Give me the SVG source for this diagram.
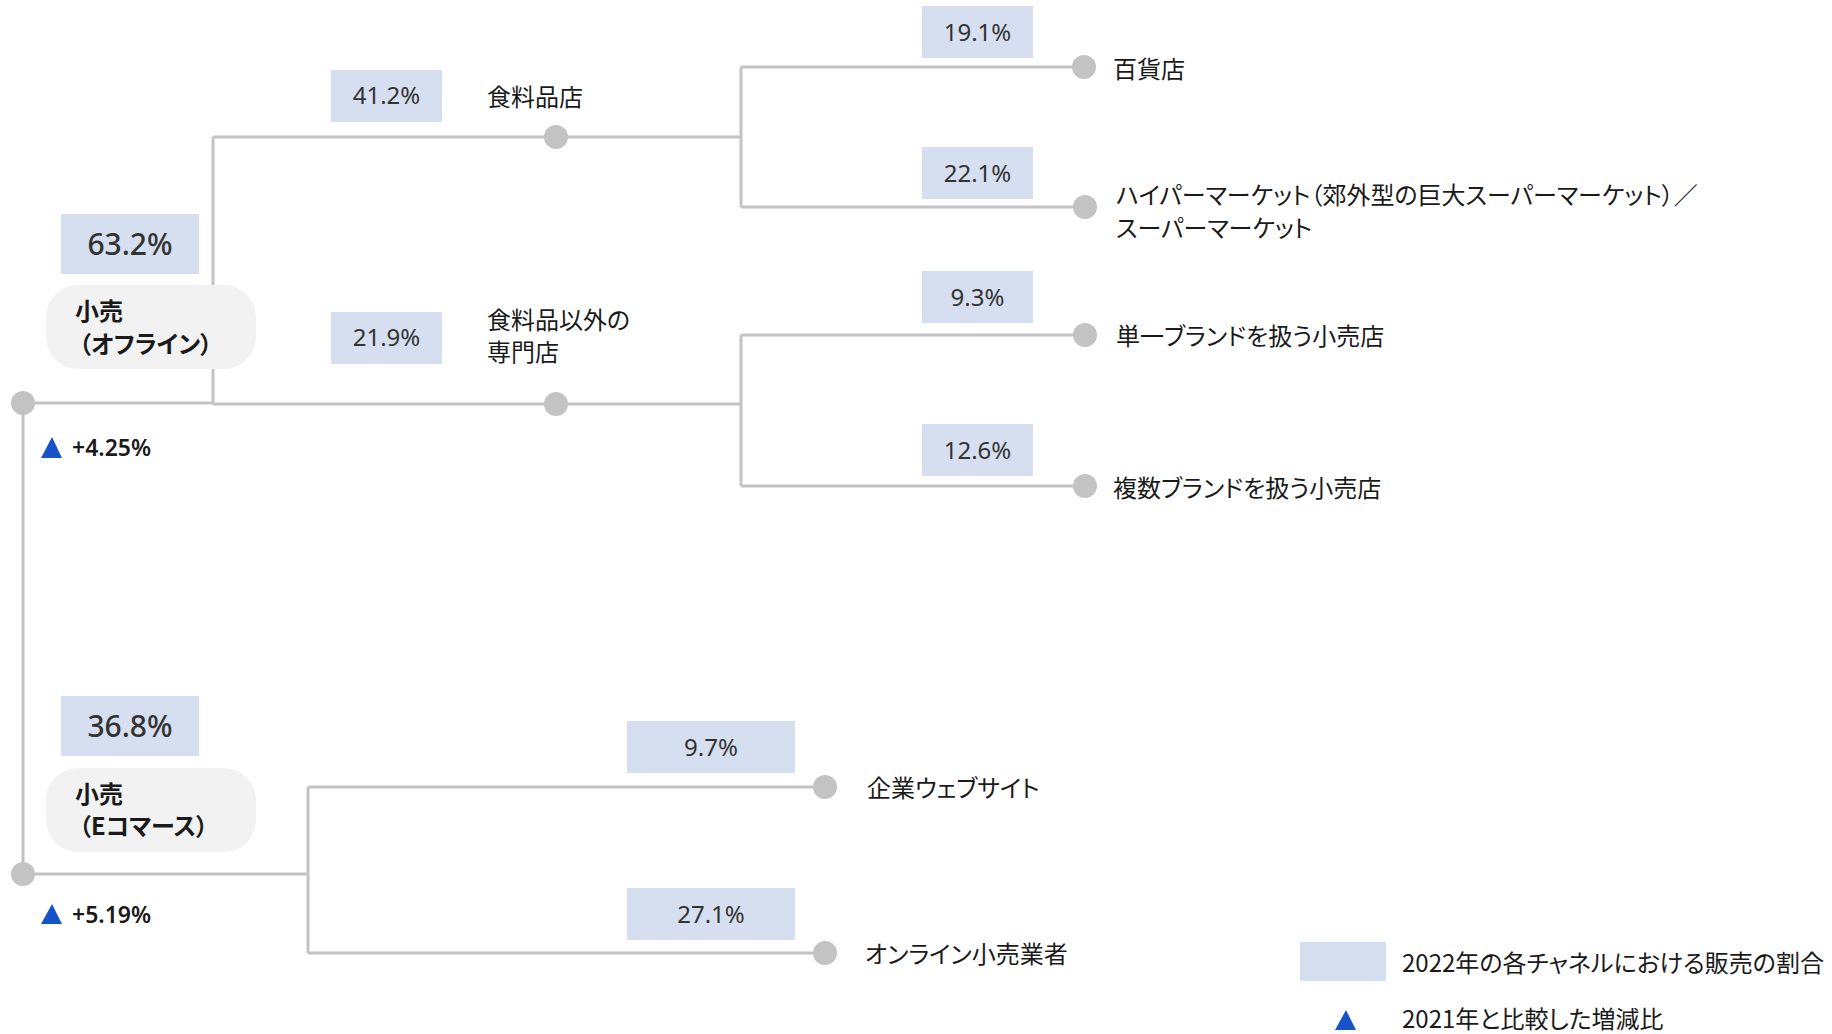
<svg xmlns="http://www.w3.org/2000/svg" width="1832" height="1034" viewBox="0 0 1832 1034">
<style>
.ln{stroke:#c3c3c3;stroke-width:3;fill:none}
.dot{fill:#c3c3c3}
.pbox{fill:#d6dfef}
.pct{font-family:"Noto Sans","Open Sans","Noto Sans CJK JP",sans-serif;font-size:24px;fill:#333;text-anchor:middle}
.big{font-size:30px;font-weight:500}
.lbl{font-family:"Noto Sans CJK JP",sans-serif;font-size:24px;fill:#1a1a1a;font-feature-settings:"palt"}
.cat{font-family:"Noto Sans CJK JP",sans-serif;font-size:24px;font-weight:700;fill:#1a1a1a;font-feature-settings:"palt"}
.catbox{fill:#f2f2f2}
.tri{fill:#1653c9}
.chg{font-family:"Noto Sans","Open Sans",sans-serif;font-size:23px;font-weight:600;fill:#1a1a1a}
</style>
<g id="connectors">
<path class="ln" d="M23 403V874"/>
<path class="ln" d="M23 403H213"/>
<path class="ln" d="M213 137V404"/>
<path class="ln" d="M213 137H741"/>
<path class="ln" d="M213 404H741"/>
<path class="ln" d="M741 67V207"/>
<path class="ln" d="M741 67H1084"/>
<path class="ln" d="M741 207H1085"/>
<path class="ln" d="M741 335V486"/>
<path class="ln" d="M741 335H1085"/>
<path class="ln" d="M741 486H1085"/>
<path class="ln" d="M23 874H308"/>
<path class="ln" d="M308 787V953"/>
<path class="ln" d="M308 787H825"/>
<path class="ln" d="M308 953H825"/>
</g>
<g id="root-offline">
<circle class="dot" cx="23" cy="403" r="12"/>
<rect class="pbox" x="61" y="214" width="138" height="60"/>
<text class="pct big" x="130" y="255">63.2%</text>
<rect class="catbox" x="46" y="285" width="210" height="84" rx="32"/>
<text class="cat" x="75" y="320">小売</text>
<text class="cat" x="79" y="353">（オフライン）</text>
<polygon class="tri" points="41,458 52,437 62,458"/>
<text class="chg" x="72" y="456">+4.25%</text>
</g>
<g id="root-ec">
<circle class="dot" cx="23" cy="874" r="12"/>
<rect class="pbox" x="61" y="696" width="138" height="60"/>
<text class="pct big" x="130" y="737">36.8%</text>
<rect class="catbox" x="46" y="768" width="210" height="84" rx="32"/>
<text class="cat" x="75" y="803">小売</text>
<text class="cat" x="79" y="835">（Eコマース）</text>
<polygon class="tri" points="41,924 52,904 62,924"/>
<text class="chg" x="72" y="923">+5.19%</text>
</g>
<g id="grocery">
<circle class="dot" cx="556" cy="137" r="12"/>
<rect class="pbox" x="331" y="70" width="111" height="52"/>
<text class="pct" x="386.5" y="104">41.2%</text>
<text class="lbl" x="487" y="106">食料品店</text>
</g>
<g id="specialty">
<circle class="dot" cx="556" cy="404" r="12"/>
<rect class="pbox" x="331" y="312" width="111" height="52"/>
<text class="pct" x="386.5" y="346">21.9%</text>
<text class="lbl" x="487" y="329">食料品以外の</text>
<text class="lbl" x="487" y="361">専門店</text>
</g>
<g id="department">
<circle class="dot" cx="1084" cy="67" r="12"/>
<rect class="pbox" x="922" y="6" width="111" height="52"/>
<text class="pct" x="977.5" y="41">19.1%</text>
<text class="lbl" x="1113" y="78">百貨店</text>
</g>
<g id="hypermarket">
<circle class="dot" cx="1085" cy="207" r="12"/>
<rect class="pbox" x="922" y="147" width="111" height="52"/>
<text class="pct" x="977.5" y="182">22.1%</text>
<text class="lbl" x="1116" y="204">ハイパーマーケット（郊外型の巨大スーパーマーケット）／</text>
<text class="lbl" x="1116" y="237">スーパーマーケット</text>
</g>
<g id="monobrand">
<circle class="dot" cx="1085" cy="335" r="12"/>
<rect class="pbox" x="922" y="271" width="111" height="52"/>
<text class="pct" x="977.5" y="306">9.3%</text>
<text class="lbl" x="1116" y="345">単一ブランドを扱う小売店</text>
</g>
<g id="multibrand">
<circle class="dot" cx="1085" cy="486" r="12"/>
<rect class="pbox" x="922" y="424" width="111" height="52"/>
<text class="pct" x="977.5" y="459">12.6%</text>
<text class="lbl" x="1113" y="497">複数ブランドを扱う小売店</text>
</g>
<g id="corporate-web">
<circle class="dot" cx="825" cy="787" r="12"/>
<rect class="pbox" x="627" y="721" width="168" height="52"/>
<text class="pct" x="711" y="756">9.7%</text>
<text class="lbl" x="867" y="797">企業ウェブサイト</text>
</g>
<g id="online-retailer">
<circle class="dot" cx="825" cy="953" r="12"/>
<rect class="pbox" x="627" y="888" width="168" height="52"/>
<text class="pct" x="711" y="923">27.1%</text>
<text class="lbl" x="865" y="963">オンライン小売業者</text>
</g>
<g id="legend">
<rect class="pbox" x="1300" y="942" width="86" height="39"/>
<text class="lbl" x="1402" y="972" textLength="422" lengthAdjust="spacingAndGlyphs">2022年の各チャネルにおける販売の割合</text>
<polygon class="tri" points="1335,1030 1346,1010 1356,1030"/>
<text class="lbl" x="1402" y="1028">2021年と比較した増減比</text>
</g>
</svg>
